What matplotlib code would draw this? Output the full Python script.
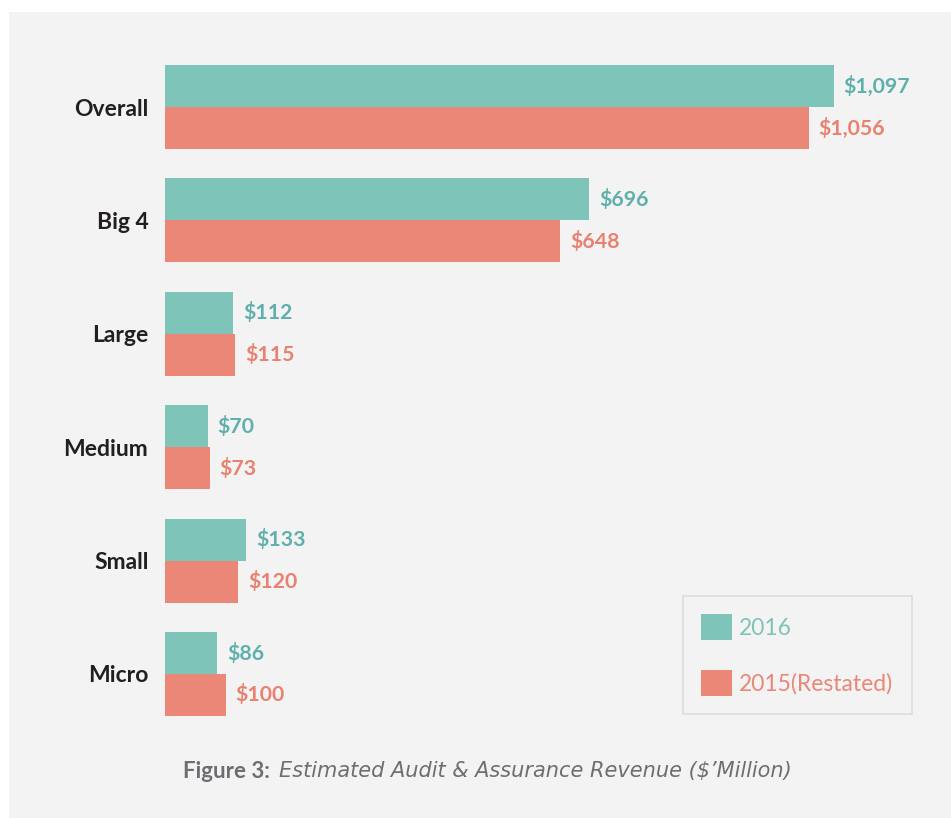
import matplotlib.pyplot as plt
from matplotlib.patches import Rectangle
import numpy as np

# Estimated audit & assurance revenue by firm size ($ million)
categories = ['Overall', 'Big 4', 'Large', 'Medium', 'Small', 'Micro']
rev_2016 = [1097, 696, 112, 70, 133, 86]
rev_2015 = [1056, 648, 115, 73, 120, 100]
series_names = ['2016', '2015(Restated)']

teal = '#7fc4b8'
salmon = '#eb8777'
teal_txt = '#5fb0ac'
salmon_txt = '#ea8170'
bg = '#f2f3f2'

plt.rcParams['font.family'] = ['Lato', 'DejaVu Sans']

fig = plt.figure(figsize=(9.51, 8.18), dpi=100)
fig.patch.set_facecolor('white')
# grey panel behind the chart
fig.patches.append(Rectangle((9 / 951, 0), 1 - 9 / 951, 1 - 12 / 818,
                             transform=fig.transFigure, facecolor=bg,
                             edgecolor='none', zorder=-10))

ax = fig.add_axes([165 / 951, 1 - 730.7 / 818, 775 / 951, 680.4 / 818])
ax.set_facecolor('none')
ax.set_zorder(5)

y = np.arange(len(categories))
h = 0.37
ax.barh(y - h / 2, rev_2016, height=h, color=teal, label=series_names[0])
ax.barh(y + h / 2, rev_2015, height=h, color=salmon, label=series_names[1])

for yi, v in zip(y, rev_2016):
    ax.text(v + 16, yi - h / 2, '${:,}'.format(v), va='center', ha='left',
            fontsize=15.3, fontweight='bold', color=teal_txt)
for yi, v in zip(y, rev_2015):
    ax.text(v + 16, yi + h / 2, '${:,}'.format(v), va='center', ha='left',
            fontsize=15.3, fontweight='bold', color=salmon_txt)

ax.set_xlim(0, 775 / 0.6098)
ax.set_ylim(5.5, -0.5)
ax.set_yticks(y)
ax.set_yticklabels(categories, fontsize=16.5, fontweight='bold', color='#231f20')
ax.tick_params(axis='y', length=0, pad=12)
ax.set_xticks([])
for s in ax.spines.values():
    s.set_visible(False)

leg = ax.legend(loc='upper left', bbox_to_anchor=(683 / 951, 1 - 596 / 818),
                bbox_transform=fig.transFigure, frameon=True, fancybox=False,
                fontsize=16.5, handlelength=1.35, handleheight=1.35,
                handletextpad=0.3, labelspacing=1.3, borderpad=0.8,
                borderaxespad=0)
leg.get_frame().set_edgecolor('#d6d7d6')
leg.get_frame().set_facecolor(bg)
leg.get_frame().set_linewidth(1.2)
for txt, c in zip(leg.get_texts(), [teal, salmon]):
    txt.set_color(c)

fig.text(183 / 951, 1 - 771 / 818, 'Figure 3:', fontsize=16, fontweight='bold',
         color='#6d6e71', va='center', ha='left')
fig.text(279 / 951, 1 - 771 / 818,
         "Estimated Audit & Assurance Revenue ($\u2019Million)",
         fontsize=15, style='italic', color='#6d6e71', va='center', ha='left',
         family='DejaVu Sans')

plt.savefig('out.png', dpi=100, facecolor=fig.get_facecolor())
